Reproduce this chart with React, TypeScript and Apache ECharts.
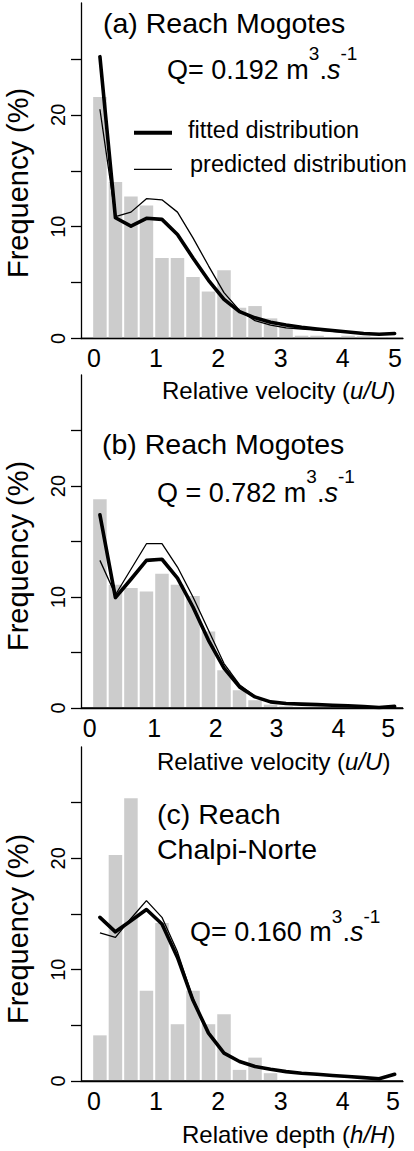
import React, { useEffect, useRef } from "react";
import * as echarts from "echarts";

// bin centres of relative velocity / depth (bin width 0.25)
const binCenters = [0.125, 0.375, 0.625, 0.875, 1.125, 1.375, 1.625, 1.875, 2.125, 2.375, 2.625, 2.875, 3.125, 3.375, 3.625, 3.875, 4.125, 4.375, 4.625, 4.875];

// (a) Reach Mogotes, Q = 0.192
const barsA = [21.6, 14.0, 12.7, 11.9, 7.2, 7.2, 5.5, 4.2, 6.1, 2.75, 2.9, 1.8, 1.25, 0.25, 0.25, 0, 0.25, 0.2, 0.1, 0.1];
const fittedA = [25.2, 10.8, 10.05, 10.75, 10.65, 9.3, 7.2, 5.2, 3.5, 2.4, 1.85, 1.45, 1.2, 1.0, 0.85, 0.72, 0.58, 0.45, 0.38, 0.45];
const predictedA = [20.5, 10.9, 11.3, 12.5, 12.4, 11.3, 9.0, 6.5, 4.1, 2.5, 1.6, 1.2, 0.95, 0.85, 0.75, 0.65, 0.55, 0.45, 0.38, 0.45];

// (b) Reach Mogotes, Q = 0.782
const barsB = [18.8, 11.1, 10.8, 10.5, 12.1, 11.1, 10.1, 6.9, 3.4, 1.6, 0.7, 0.3, 0.15, 0.1, 0.05, 0, 0, 0, 0, 0];
const fittedB = [17.4, 9.95, 11.6, 13.3, 13.4, 11.7, 9.1, 6.1, 3.6, 1.9, 1.0, 0.55, 0.4, 0.35, 0.3, 0.25, 0.2, 0.12, 0.05, 0.15];
const predictedB = [13.3, 10.2, 12.5, 14.8, 14.8, 12.7, 10.0, 7.0, 4.0, 2.1, 1.05, 0.55, 0.4, 0.35, 0.3, 0.25, 0.2, 0.12, 0.05, 0.15];

// (c) Reach Chalpi-Norte, Q = 0.160
const barsC = [4.1, 20.3, 25.4, 8.1, 14.2, 5.1, 8.1, 5.1, 6.0, 1.0, 2.1, 0.7, 0.1, 0.1, 0.05, 0.05, 0.05, 0.05, 0, 0];
const fittedC = [14.7, 13.4, 14.4, 15.4, 14.1, 11.1, 7.25, 4.3, 2.5, 1.75, 1.3, 1.05, 0.84, 0.69, 0.6, 0.5, 0.4, 0.3, 0.2, 0.6];
const predictedC = [13.3, 12.9, 14.6, 16.2, 14.7, 11.6, 7.4, 4.3, 2.5, 1.75, 1.3, 1.05, 0.84, 0.69, 0.6, 0.5, 0.4, 0.3, 0.2, 0.6];

// tick labels
const yTickValues = [0, 5, 10, 15, 20, 25];
const yLabelValues = [0, 10, 20];
const xTickLabels = ["0", "1", "2", "3", "4", "5"];
const xTickPosA = [0.03, 1.03, 2.03, 3.04, 4.04, 4.88];
const xTickPosB = [-0.04, 1.0, 1.99, 2.97, 3.97, 4.77];
const xTickPosC = [0.03, 1.03, 2.03, 3.04, 4.04, 4.85];

// axis ranges
const X_MIN = -0.18;
const X_MAX = 5.01;
const Y_MIN = 0;
const Y_MAX = 30;

const FONT = "'Liberation Sans', Arial, Helvetica, sans-serif";

const panels = [
  { bars: barsA, fitted: fittedA, predicted: predictedA, ticks: xTickPosA, top: 3, height: 335.5 },
  { bars: barsB, fitted: fittedB, predicted: predictedB, ticks: xTickPosB, top: 375, height: 333 },
  { bars: barsC, fitted: fittedC, predicted: predictedC, ticks: xTickPosC, top: 747, height: 334 },
];

function pairs(xs: number[], ys: number[]) {
  return xs.map((x, i) => [x, ys[i]]);
}

function nearestLabel(ticks: number[], v: number) {
  let best = 0;
  for (let i = 1; i < ticks.length; i++) {
    if (Math.abs(ticks[i] - v) < Math.abs(ticks[best] - v)) best = i;
  }
  return xTickLabels[best];
}

function plainText(text: string, x: number, y: number, fontSize: number) {
  return {
    type: "text",
    x,
    y,
    silent: true,
    style: {
      text,
      fontSize,
      fontFamily: FONT,
      fill: "#000",
      align: "left",
      verticalAlign: "middle",
    },
  };
}

function qText(value: string, spaced: boolean, x: number, bottom: number) {
  const base = { fontSize: 27, lineHeight: 27, verticalAlign: "bottom", fontFamily: FONT, fill: "#000" };
  return {
    type: "text",
    x,
    y: bottom,
    silent: true,
    style: {
      text: `{n|Q${spaced ? " = " : "= "}${value} m}{sup|3}{n|.}{i|s}{sup|-1}`,
      align: "left",
      verticalAlign: "bottom",
      fontFamily: FONT,
      fill: "#000",
      rich: {
        n: base,
        i: { ...base, fontStyle: "italic" },
        sup: { fontSize: 19, lineHeight: 19, padding: [0, 0, 20, 0], verticalAlign: "bottom", fontFamily: FONT, fill: "#000" },
      },
    },
  };
}

function xTitle(main: string, ital: string, x: number, y: number) {
  const base = { fontSize: 24, fontFamily: FONT, fill: "#000" };
  return {
    type: "text",
    x,
    y,
    silent: true,
    style: {
      text: `{n|${main} (}{i|${ital}}{n|)}`,
      align: "left",
      verticalAlign: "middle",
      fontFamily: FONT,
      fill: "#000",
      rich: { n: base, i: { ...base, fontStyle: "italic" } },
    },
  };
}

function yTitle(cy: number) {
  return {
    type: "text",
    x: 18,
    y: cy,
    rotation: Math.PI / 2,
    silent: true,
    style: {
      text: "Frequency (%)",
      fontSize: 29,
      fontFamily: FONT,
      fill: "#000",
      align: "center",
      verticalAlign: "middle",
    },
  };
}

export default function App() {
  const ref = useRef<HTMLDivElement>(null);

  useEffect(() => {
    document.body.style.margin = "0";
    if (!ref.current) return;
    const chart = echarts.init(ref.current, undefined, { renderer: "svg" });

    const grid = panels.map((p) => ({ left: 81, width: 322, top: p.top, height: p.height }));

    const xAxis = panels.map((p, i) => ({
      gridIndex: i,
      type: "value",
      min: X_MIN,
      max: X_MAX,
      axisLine: { show: true, onZero: false, lineStyle: { color: "#000", width: 1.3 } },
      axisTick: { show: false },
      splitLine: { show: false },
      axisLabel: {
        customValues: p.ticks,
        formatter: (v: number) => nearestLabel(p.ticks, v),
        fontSize: 25,
        fontFamily: FONT,
        color: "#000",
        margin: 7,
        showMinLabel: true,
        showMaxLabel: true,
      },
    }));

    const yAxis = panels.map((p, i) => ({
      gridIndex: i,
      type: "value",
      min: Y_MIN,
      max: Y_MAX,
      interval: 5,
      axisLine: { show: true, onZero: false, lineStyle: { color: "#000", width: 1.3 } },
      axisTick: { show: true, inside: false, length: 10, customValues: yTickValues, lineStyle: { color: "#000", width: 1.3 } },
      splitLine: { show: false },
      axisLabel: {
        customValues: yLabelValues,
        rotate: 90,
        fontSize: 20,
        fontFamily: FONT,
        color: "#000",
        margin: 13,
      },
    }));

    const series: any[] = [];
    panels.forEach((p, i) => {
      series.push({
        type: "bar",
        xAxisIndex: i,
        yAxisIndex: i,
        data: pairs(binCenters, p.bars),
        barWidth: 13.5,
        itemStyle: { color: "#cccccc" },
        silent: true,
        z: 2,
      });
      // horizontal baseline along y = 0 across the whole plot width
      series.push({
        type: "line",
        xAxisIndex: i,
        yAxisIndex: i,
        data: [[X_MIN, Y_MIN], [X_MAX, Y_MIN]],
        symbol: "none",
        lineStyle: { color: "#000", width: 1.3 },
        silent: true,
        z: 3,
      });
      series.push({
        type: "line",
        xAxisIndex: i,
        yAxisIndex: i,
        data: pairs(binCenters, p.predicted),
        symbol: "none",
        lineStyle: { color: "#000", width: 1.3 },
        silent: true,
        z: 4,
      });
      series.push({
        type: "line",
        xAxisIndex: i,
        yAxisIndex: i,
        data: pairs(binCenters, p.fitted),
        symbol: "none",
        lineStyle: { color: "#000", width: 3.6, join: "round", cap: "round" },
        silent: true,
        z: 5,
      });
    });

    const graphic: any[] = [
      // panel (a)
      plainText("(a) Reach Mogotes", 103, 23.4, 28.5),
      qText("0.192", false, 167, 83.4),
      { type: "line", silent: true, shape: { x1: 134, y1: 132.7, x2: 172, y2: 132.7 }, style: { stroke: "#000", lineWidth: 4 } },
      { type: "line", silent: true, shape: { x1: 134, y1: 169.3, x2: 172, y2: 169.3 }, style: { stroke: "#000", lineWidth: 1.3 } },
      plainText("fitted distribution", 188, 130.4, 23.5),
      plainText("predicted distribution", 190, 164.4, 23.5),
      xTitle("Relative velocity", "u/U", 162, 390.7),
      yTitle(183),
      // panel (b)
      plainText("(b) Reach Mogotes", 102, 444.1, 28.5),
      qText("0.782", true, 157, 506.1),
      xTitle("Relative velocity", "u/U", 157, 761.2),
      yTitle(556),
      // panel (c)
      plainText("(c) Reach", 157, 814.4, 28.5),
      plainText("Chalpi-Norte", 157, 849.1, 28.5),
      qText("0.160", false, 190, 945.8),
      xTitle("Relative depth", "h/H", 182, 1134.4),
      yTitle(929),
    ];

    chart.setOption({
      animation: false,
      backgroundColor: "#fff",
      grid,
      xAxis,
      yAxis,
      series,
      graphic,
    });

    return () => chart.dispose();
  }, []);

  return <div ref={ref} style={{ position: "absolute", left: 0, top: 0, width: 414, height: 1151 }} />;
}
